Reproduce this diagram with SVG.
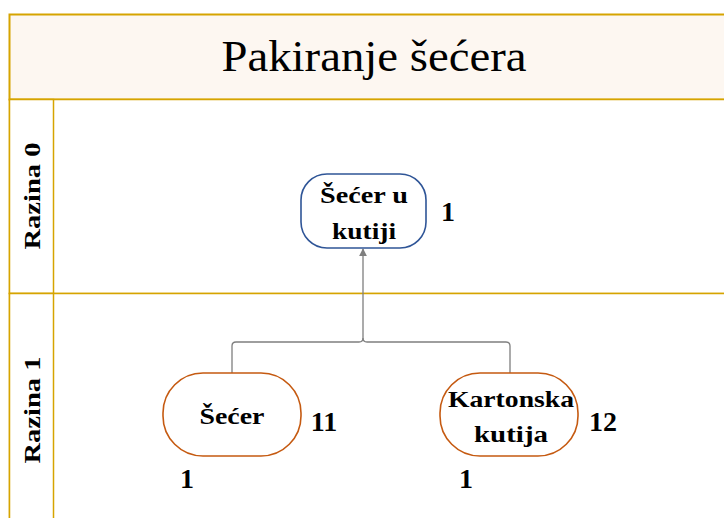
<svg xmlns="http://www.w3.org/2000/svg" width="724" height="518" viewBox="0 0 724 518">
<style>
.lane{fill:#ffffff;stroke:#D6A400;stroke-width:1.5}
text{font-family:'Liberation Serif','Times New Roman',serif;fill:#000;text-anchor:middle}
.nl{font-size:24px;font-weight:bold}
.num{font-size:28px;font-weight:bold}
.ln{font-size:24px;font-weight:bold}
.conn{fill:none;stroke:#7F7F7F;stroke-width:1.3}
</style>
<defs>
<marker id="arr" viewBox="0 0 10 10" refX="9" refY="5" markerWidth="8" markerHeight="8" orient="auto" markerUnits="userSpaceOnUse">
<path d="M0,0 L10,5 L0,10 z" fill="#7F7F7F"/>
</marker>
</defs>
<rect width="724" height="518" fill="#ffffff"/>
<g id="pool">
<rect x="9.5" y="14.5" width="720" height="85" fill="#FDF7F1" stroke="#D6A400" stroke-width="2"/>
<text x="374" y="71" font-size="44" textLength="305" lengthAdjust="spacingAndGlyphs">Pakiranje šećera</text>
</g>
<g id="lane0">
<rect class="lane" x="9.5" y="99.5" width="720" height="194"/>
<rect class="lane" x="9.5" y="99.5" width="44" height="194"/>
<text class="ln" transform="translate(40,196) rotate(-90)" textLength="107" lengthAdjust="spacingAndGlyphs">Razina 0</text>
</g>
<g id="lane1">
<rect class="lane" x="9.5" y="293.5" width="720" height="240"/>
<rect class="lane" x="9.5" y="293.5" width="44" height="240"/>
<text class="ln" transform="translate(40,410) rotate(-90)" textLength="107" lengthAdjust="spacingAndGlyphs">Razina 1</text>
</g>
<g id="connectors">
<path class="conn" d="M232,373 V346 Q232,342 236,342 H359 Q363,342 363,338 V249" marker-end="url(#arr)"/>
<path class="conn" d="M510,373 V346 Q510,342 506,342 H367 Q363,342 363,338"/>
</g>
<g id="node-secer-u-kutiji">
<rect x="301" y="174" width="125" height="74" rx="26" fill="#fff" stroke="#2F5597" stroke-width="1.6"/>
<text class="nl" x="364" y="203" textLength="88" lengthAdjust="spacingAndGlyphs">Šećer u</text>
<text class="nl" x="364" y="239" textLength="64" lengthAdjust="spacingAndGlyphs">kutiji</text>
<text class="num" x="448" y="221">1</text>
</g>
<g id="node-secer">
<rect x="163" y="373" width="138" height="83" rx="40" fill="#fff" stroke="#C55A11" stroke-width="1.6"/>
<text class="nl" x="232" y="424" textLength="65" lengthAdjust="spacingAndGlyphs">Šećer</text>
<text class="num" x="324" y="431">11</text>
<text class="num" x="187" y="488">1</text>
</g>
<g id="node-kartonska-kutija">
<rect x="440" y="373" width="138" height="83" rx="40" fill="#fff" stroke="#C55A11" stroke-width="1.6"/>
<text class="nl" x="511" y="407" textLength="126" lengthAdjust="spacingAndGlyphs">Kartonska</text>
<text class="nl" x="511" y="442" textLength="74" lengthAdjust="spacingAndGlyphs">kutija</text>
<text class="num" x="603" y="431">12</text>
<text class="num" x="466" y="488">1</text>
</g>
</svg>
